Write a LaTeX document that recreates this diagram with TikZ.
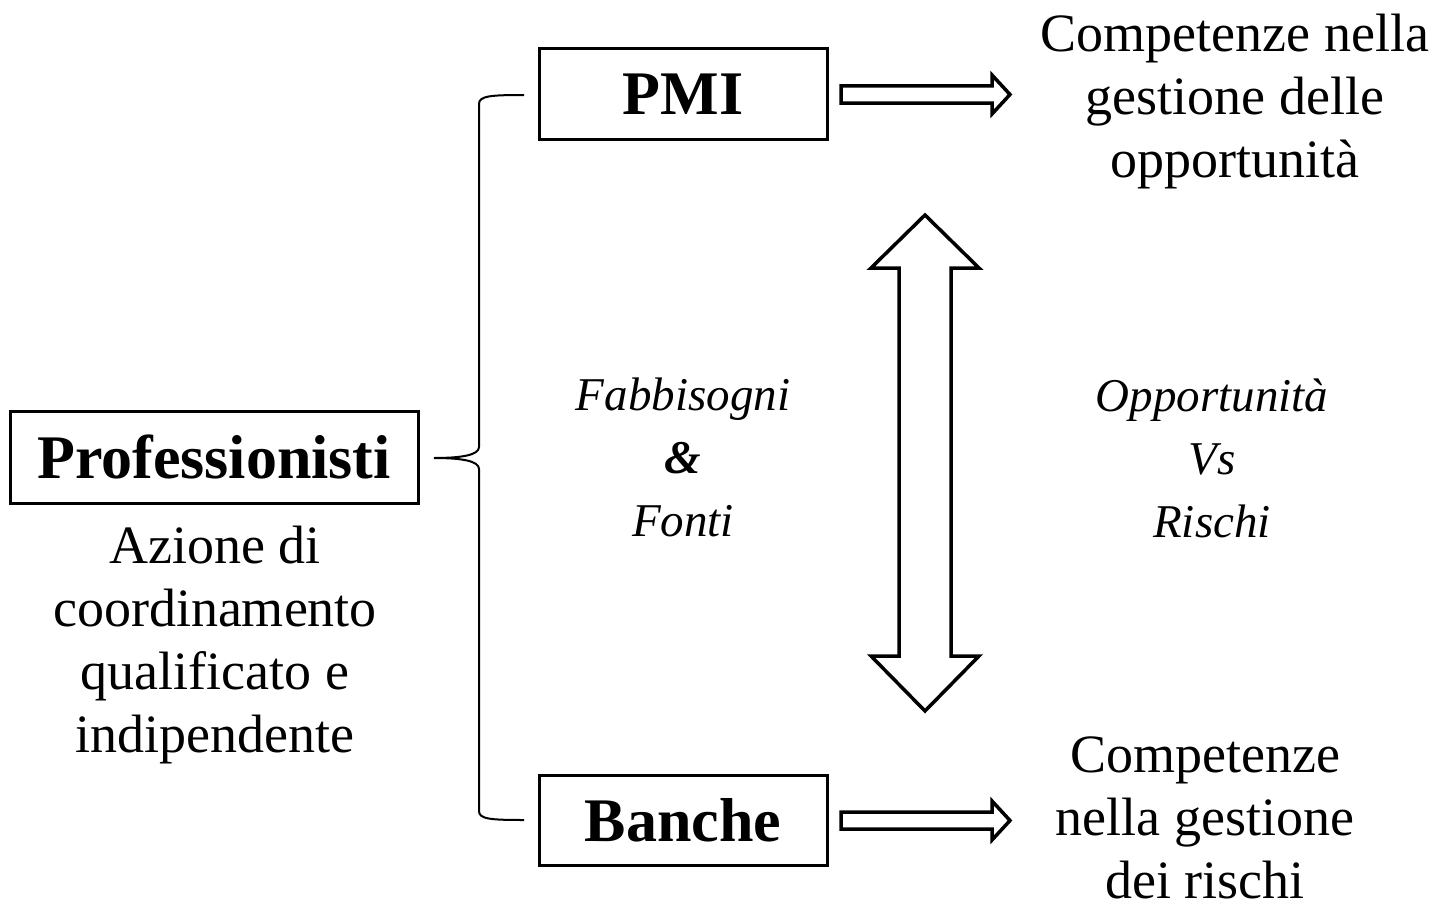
\documentclass[tikz,border=0pt]{standalone}
\usepackage{fontspec}
\setmainfont{Liberation Serif}
\begin{document}
\begin{tikzpicture}[x=1pt,y=-1pt,
  box/.style={draw, line width=3pt, inner sep=0pt, font=\fontsize{62}{70}\selectfont\bfseries},
  txt/.style={align=center, inner sep=0pt, font=\fontsize{54}{63}\selectfont},
  itxt/.style={align=center, inner sep=0pt, font=\fontsize{47}{63}\selectfont\itshape},
  bigarrow/.style={draw, line width=3.5pt, fill=white, line join=miter},
  bracestyle/.style={draw, line width=2pt}]
\useasboundingbox (0,0) rectangle (1441,907);

\node[box, minimum width=408, minimum height=92] (prof) at (214,457) {Professionisti};
\node[box, minimum width=288, minimum height=90] (pmi) at (683,94) {PMI};
\node[box, minimum width=288, minimum height=90] (banche) at (683,820) {Banche};

\node[txt] (azione) at (215,645) {Azione di\\coordinamento\\qualificato e\\indipendente};
\node[txt] (compA) at (1235,102) {Competenze nella\\gestione delle\\opportunità};
\node[txt] (compB) at (1205,818) {Competenze\\nella gestione\\dei rischi};
\node[itxt] (fab) at (683,457) {Fabbisogni\\{\bfseries\&}\\Fonti};
\node[itxt] (opp) at (1212,458) {Opportunità\\Vs\\Rischi};

% brace
\coordinate (btip) at (434,458);
\coordinate (btop) at (524,95);
\coordinate (bbot) at (524,820);
\draw[bracestyle] (btop) .. controls (490,95) and (479,96) .. (479,104) -- (479,447)
  .. controls (479,455) and (462,458) .. (btip)
  .. controls (462,458) and (479,461) .. (479,469) -- (479,811)
  .. controls (479,819) and (490,820) .. (bbot);

% horizontal arrows
\draw[bigarrow] (841,86) -- (992,86) -- (992,75) -- (1010,94.5) -- (992,114) -- (992,103) -- (841,103) -- cycle;
\draw[bigarrow] (841,812) -- (992,812) -- (992,801) -- (1010,820.5) -- (992,840) -- (992,829) -- (841,829) -- cycle;

% vertical double arrow
\draw[bigarrow] (925,215) -- (979,268) -- (951,268) -- (951,656) -- (979,656) -- (925,711)
  -- (871,656) -- (899,656) -- (899,268) -- (871,268) -- cycle;
\end{tikzpicture}
\end{document}
